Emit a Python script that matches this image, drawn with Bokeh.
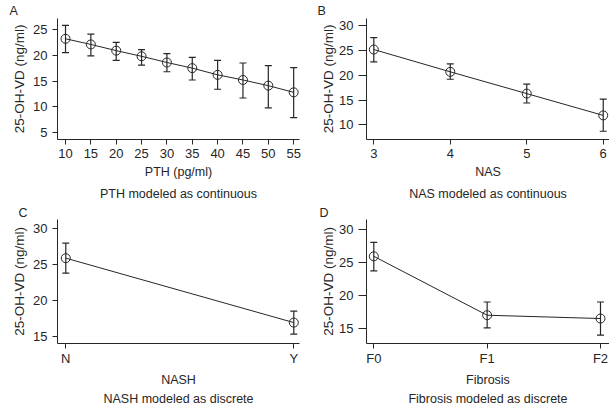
from bokeh.plotting import figure
from bokeh.models import ColumnDataSource, Whisker, TeeHead, Range1d, FixedTicker, Title
from bokeh.layouts import column, row
from bokeh.embed import file_html
from bokeh.resources import INLINE

FONT = "Liberation Sans"
INK = "#262626"

# Panel A: PTH continuous
pth_x = [10, 15, 20, 25, 30, 35, 40, 45, 50, 55]
pth_mean = [23.2, 22.1, 20.9, 19.8, 18.6, 17.5, 16.2, 15.2, 14.1, 12.8]
pth_lo = [20.5, 19.9, 19.0, 18.1, 16.8, 15.2, 13.4, 11.7, 9.8, 7.9]
pth_hi = [25.8, 24.1, 22.5, 21.1, 20.3, 19.6, 19.0, 18.5, 18.0, 17.6]

# Panel B: NAS continuous
nas_x = [3, 4, 5, 6]
nas_mean = [25.2, 20.7, 16.3, 11.9]
nas_lo = [22.7, 19.2, 14.4, 8.7]
nas_hi = [27.6, 22.3, 18.2, 15.2]

# Panel C: NASH discrete
nash_cats = ["N", "Y"]
nash_mean = [25.9, 16.9]
nash_lo = [23.8, 15.3]
nash_hi = [28.0, 18.5]

# Panel D: Fibrosis discrete
fib_cats = ["F0", "F1", "F2"]
fib_mean = [25.9, 17.0, 16.5]
fib_lo = [23.7, 15.1, 14.0]
fib_hi = [28.0, 19.0, 19.0]


def panel(x, mean, lo, hi, xr, yr, xticks, yticks, xlabel, subtitle, letter,
          letter_off, borders, frame, overrides=None, ytick=(5, 5, 3), xstand=(4, 4),
          tstand=6, lstand=1):
    p = figure(frame_width=frame[0], frame_height=frame[1],
               x_range=Range1d(*xr), y_range=Range1d(*yr),
               output_backend="svg", toolbar_location=None,
               min_border_left=borders[0], min_border_right=borders[1],
               min_border_top=borders[2], min_border_bottom=borders[3])
    p.outline_line_color = None
    p.grid.visible = False
    src = ColumnDataSource(dict(x=x, mean=mean, lo=lo, hi=hi))
    p.line("x", "mean", source=src, line_color=INK, line_width=1)
    w = Whisker(base="x", upper="hi", lower="lo", source=src, dimension="height",
                line_color=INK, line_width=1.2,
                upper_head=TeeHead(size=7, line_color=INK, line_width=1.2),
                lower_head=TeeHead(size=7, line_color=INK, line_width=1.2))
    p.add_layout(w)
    p.scatter("x", "mean", source=src, marker="circle", size=9,
              fill_color=None, line_color=INK, line_width=1)

    p.xaxis.ticker = FixedTicker(ticks=xticks)
    p.yaxis.ticker = FixedTicker(ticks=yticks)
    if overrides:
        p.xaxis.major_label_overrides = overrides
    for ax in (p.xaxis[0], p.yaxis[0]):
        ax.axis_line_color = INK
        ax.major_tick_line_color = INK
        ax.minor_tick_line_color = None
        ax.major_tick_out = 5
        ax.major_tick_in = 0
        ax.major_label_text_font = FONT
        ax.major_label_text_font_size = "13px"
        ax.major_label_text_color = INK
        ax.axis_label_text_font = FONT
        ax.axis_label_text_font_style = "normal"
        ax.axis_label_text_color = INK
    p.yaxis.axis_label = "25-OH-VD (ng/ml)"
    p.yaxis.axis_label_text_font_size = "13.5px"
    p.yaxis.major_tick_out = ytick[0]
    p.yaxis.major_label_standoff = ytick[1]
    p.yaxis.axis_label_standoff = ytick[2]
    p.xaxis.axis_label = xlabel
    p.xaxis.axis_label_text_font_size = "12.5px"
    p.xaxis.major_label_standoff = xstand[0]
    p.xaxis.axis_label_standoff = xstand[1]
    t = Title(text=subtitle, align="center", text_font=FONT, text_font_size="12.5px",
              text_font_style="normal", text_color=INK, standoff=tstand, offset=0)
    p.add_layout(t, "below")
    lt = Title(text=letter, align="left", text_font=FONT, text_font_size="12.5px",
               text_font_style="normal", text_color=INK, standoff=lstand, offset=letter_off)
    p.add_layout(lt, "above")
    return p


pA = panel(pth_x, pth_mean, pth_lo, pth_hi, (8.42, 56.15), (3.64, 27.14),
           pth_x, [5, 10, 15, 20, 25], "PTH (pg/ml)", "PTH modeled as continuous",
           "A", -48, (57, 5, 18, 65), (242, 121))
pB = panel(nas_x, nas_mean, nas_lo, nas_hi, (2.9045, 6.082), (7.03, 31.47),
           nas_x, [10, 15, 20, 25, 30], "NAS", "NAS modeled as continuous",
           "B", -49, (62, 0, 18, 65), (243, 121), ytick=(8, 5, 0))

nash_x = list(range(len(nash_cats)))
pC = panel(nash_x, nash_mean, nash_lo, nash_hi, (-0.0364, 1.025), (13.98, 31.30),
           nash_x, [15, 20, 25, 30], "NASH", "NASH modeled as discrete",
           "C", -39, (57, 5, 15, 60), (242, 124),
           overrides={i: c for i, c in enumerate(nash_cats)}, xstand=(2, 4), tstand=0,
           lstand=-1.5)
fib_x = list(range(len(fib_cats)))
pD = panel(fib_x, fib_mean, fib_lo, fib_hi, (-0.0644, 2.0794), (12.73, 31.46),
           fib_x, [15, 20, 25, 30], "Fibrosis", "Fibrosis modeled as discrete",
           "D", -47, (62, 0, 15, 60), (243, 124),
           overrides={i: c for i, c in enumerate(fib_cats)}, ytick=(8, 5, 0), xstand=(2, 4),
           tstand=0, lstand=-1.5)

layout = column(row(pA, pB, spacing=0), row(pC, pD, spacing=0), spacing=0)
open("out.html", "w").write(file_html(layout, INLINE))
